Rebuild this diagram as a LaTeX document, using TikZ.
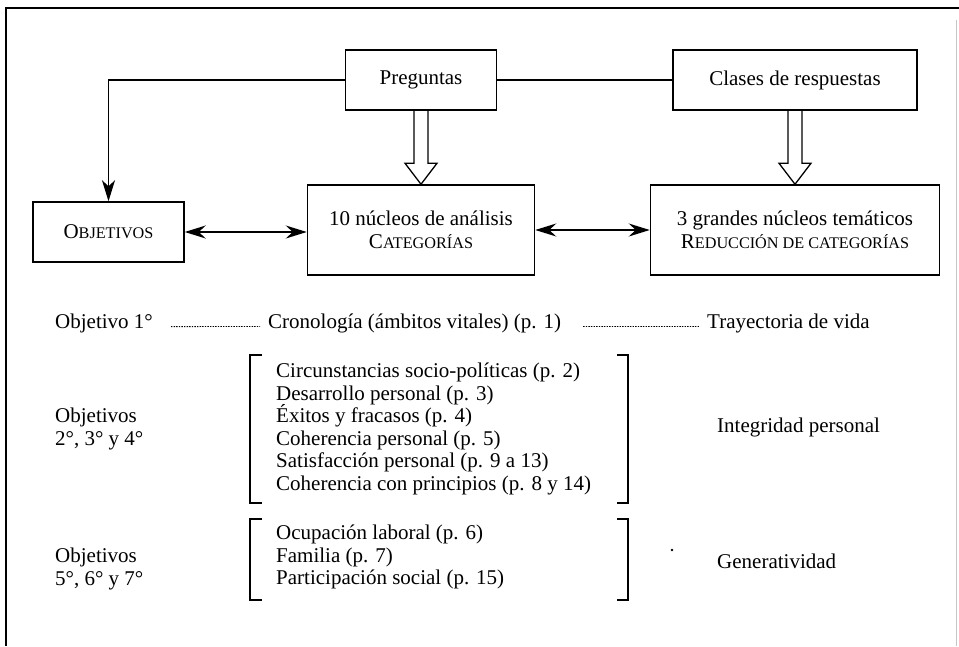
\documentclass[tikz,border=0pt]{standalone}
\usepackage{fontspec}
\setmainfont{Liberation Serif}
\usetikzlibrary{arrows.meta,calc}
\newcommand\fakesc[2]{#1{\fontsize{16.2}{17}\selectfont #2}}
\begin{document}
\begin{tikzpicture}[x=1pt,y=-1pt,
  font=\fontsize{21}{22.5}\selectfont,
  box/.style={draw, line width=1.5pt, rectangle, inner sep=0pt, align=center},
  conn/.style={line width=1.4pt},
  tipS/.tip={Stealth[length=21pt,width=13pt,inset=7pt]},
  dbl/.style={conn, tipS-tipS},
  hollow/.style={draw, line width=1.3pt, line join=miter},
  lbl/.style={inner sep=0pt, anchor=west, align=left},
  dots/.style={line width=0.9pt, dash pattern=on 1.4pt off 1.2pt},
  brk/.style={line width=1.5pt}]

\useasboundingbox (0,0) rectangle (959,646);
\fill[white] (0,0) rectangle (959,646);
% frame
\draw[line width=2.4pt] (6,646) -- (6,8) -- (959,8);
\draw[gray!45, line width=0.8pt] (956,20) -- (956,646);

% boxes
\node[box, minimum width=151pt, minimum height=60pt] (pre) at (421,80) {Preguntas};
\node[box, minimum width=244pt, minimum height=60pt] (cla) at (795,80) {Clases de respuestas};
\node[box, minimum width=151pt, minimum height=60pt] (obj) at (108.5,232) {\fakesc{O}{BJETIVOS}};
\node[box, minimum width=227pt, minimum height=90pt] (nuc) at (421,230) {10 núcleos de análisis\\\fakesc{C}{ATEGORÍAS}};
\node[box, minimum width=289pt, minimum height=90pt] (gra) at (795,230) {3 grandes núcleos temáticos\\\fakesc{R}{EDUCCIÓN DE CATEGORÍAS}};

% connectors
\draw[conn] (pre.east) -- (cla.west);
\draw[conn, -{Stealth[length=21pt,width=13pt,inset=6pt]}] (pre.west) -| (obj.north);
\draw[dbl] (obj.east) -- (obj.east -| nuc.west);
\draw[dbl] (nuc.east) -- (nuc.east -| gra.west);

% hollow arrows
\path[hollow] let \p1=(pre.south), \p2=(nuc.north) in
  (\x1-7pt,\y1) -- (\x1-7pt,\y2+21pt) -- (\x1-16pt,\y2+21pt) -- (\x1,\y2)
  -- (\x1+16pt,\y2+21pt) -- (\x1+7pt,\y2+21pt) -- (\x1+7pt,\y1);
\path[hollow] let \p1=(cla.south), \p2=(gra.north) in
  (\x1-7pt,\y1) -- (\x1-7pt,\y2+21pt) -- (\x1-16pt,\y2+21pt) -- (\x1,\y2)
  -- (\x1+16pt,\y2+21pt) -- (\x1+7pt,\y2+21pt) -- (\x1+7pt,\y1);

% row 1
\node[lbl] (o1) at (55,323) {Objetivo 1°};
\node[lbl] (cro) at (268,323) {Cronología (ámbitos vitales) (p. 1)};
\node[lbl] (tra) at (707,323) {Trayectoria de vida};
\draw[dots, shorten <=18pt, shorten >=8pt] ([yshift=1.5pt]o1.base east) -- ([yshift=1.5pt]cro.base west);
\draw[dots, shorten <=22pt, shorten >=8pt] ([yshift=1.5pt]cro.base east) -- ([yshift=1.5pt]tra.base west);

% block 1
\node[lbl] (b1) at (276,429) {Circunstancias socio-políticas (p. 2)\\Desarrollo personal (p. 3)\\Éxitos y fracasos (p. 4)\\Coherencia personal (p. 5)\\Satisfacción personal (p. 9 a 13)\\Coherencia con principios (p. 8 y 14)};
\draw[brk] (262,355) -- (250,355) -- (250,503) -- (262,503);
\draw[brk] (617,355) -- (628,355) -- (628,503) -- (617,503);
\node[lbl] (ob2) at (55,429) {Objetivos\\2°, 3° y 4°};
\node[lbl] (int) at (717,427) {Integridad personal};

% block 2
\node[lbl] (b2) at (276,557) {Ocupación laboral (p. 6)\\Familia (p. 7)\\Participación social (p. 15)};
\draw[brk] (262,519) -- (250,519) -- (250,600) -- (262,600);
\draw[brk] (617,519) -- (628,519) -- (628,600) -- (617,600);
\node[lbl] (ob5) at (55,569) {Objetivos\\5°, 6° y 7°};
\node[lbl] (gen) at (717,561) {Generatividad};
\node[circle, fill, inner sep=0pt, minimum size=2.8pt] (dot) at (672,550) {};
\end{tikzpicture}
\end{document}
